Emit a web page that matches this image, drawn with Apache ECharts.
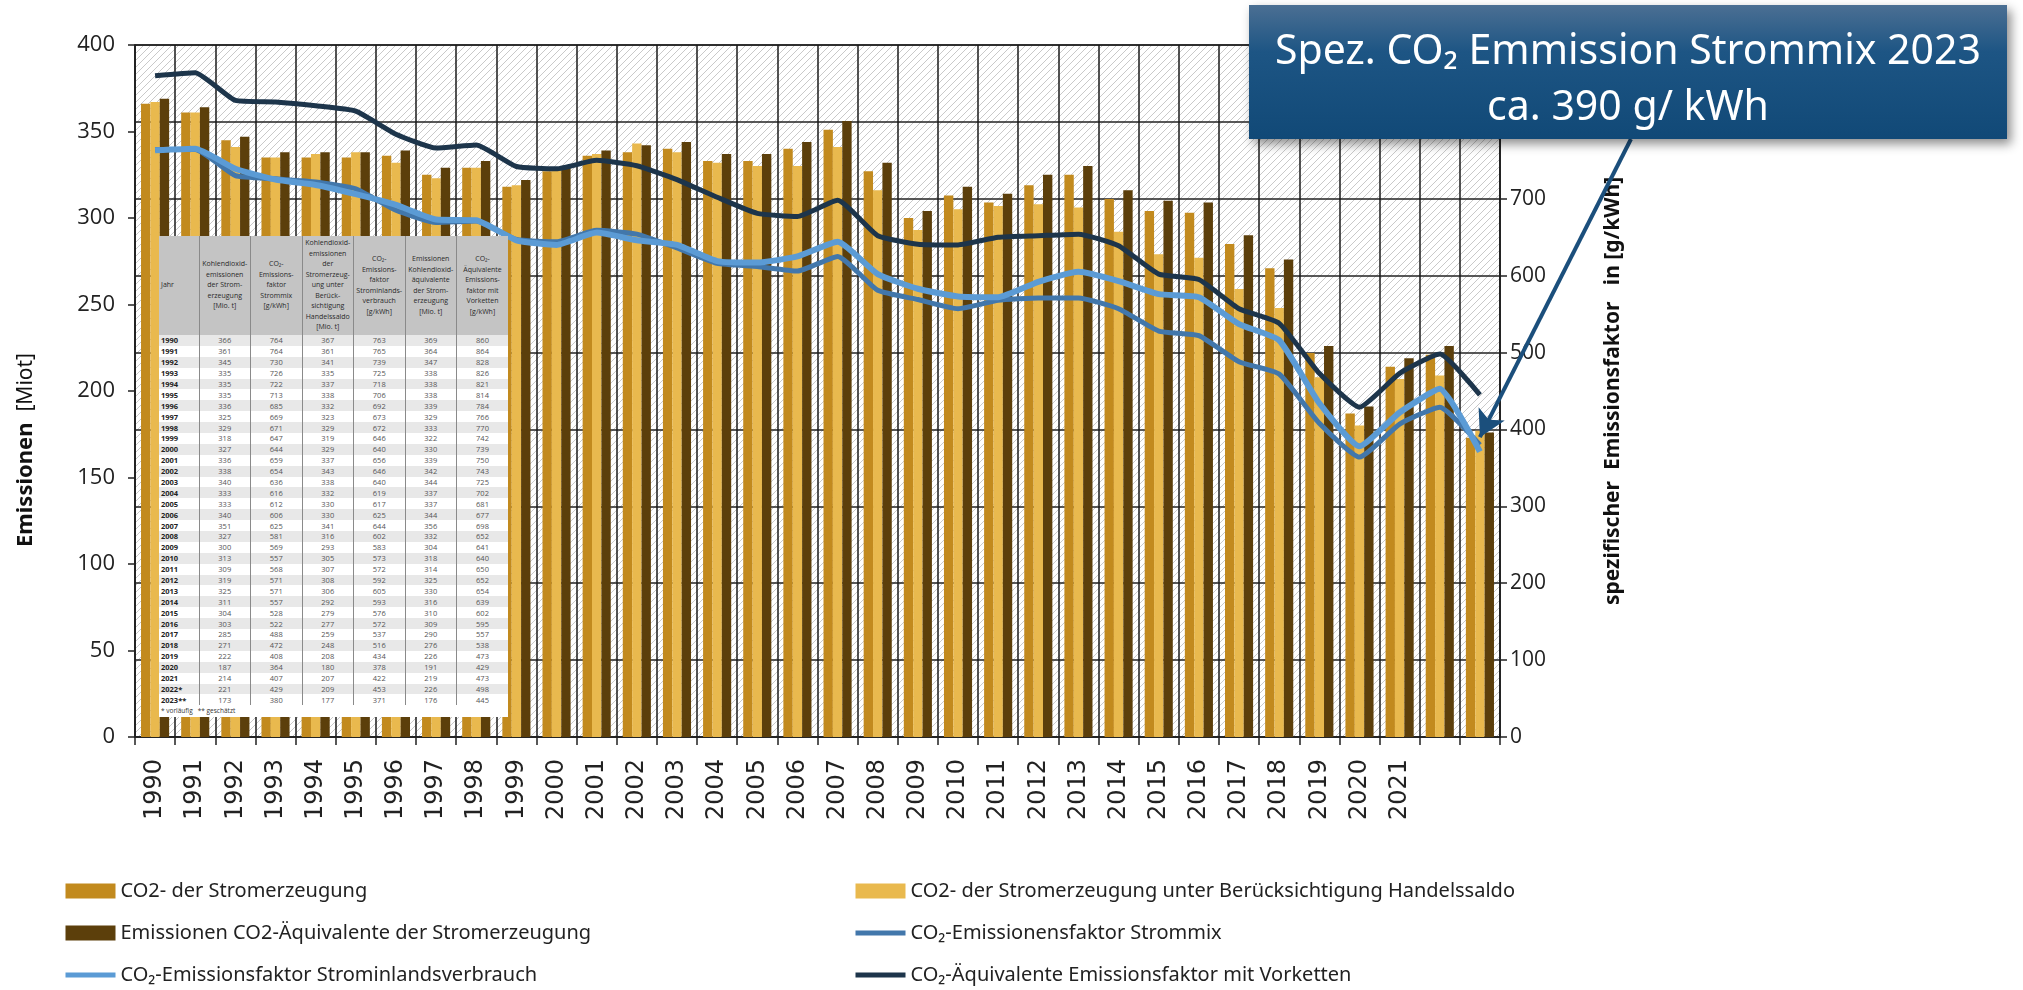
<!DOCTYPE html>
<html>
<head>
<meta charset="utf-8">
<script src="https://cdn.jsdelivr.net/npm/echarts@6/dist/echarts.min.js"></script>
<style>
  html, body { margin: 0; padding: 0; background: #fff; }
  #chart { position: absolute; left: 0; top: 0; width: 2023px; height: 990px; }
  #tbl { position: absolute; left: 159px; top: 236px; width: 349px; background: #fff; z-index: 5;
         font-family: 'Open Sans', 'Noto Sans', sans-serif; }
  #tbl table { border-collapse: collapse; width: 100%; table-layout: fixed; }
  #tbl th { background: #c4c4c4; font-size: 7px; font-weight: normal; color: #2a2a2a; height: 99px;
            line-height: 10.5px; padding: 0 1px; border-left: 1px solid #8a8a8a; text-align: center; }
  #tbl th:first-child { text-align: left; border-left: none; padding-left: 2px; }
  #tbl td { height: 10.9px; padding: 0; font-size: 7.5px; line-height: 10px; color: #555;
            text-align: center; border-left: 1px solid #8a8a8a; }
  #tbl td:first-child { text-align: left; font-weight: bold; color: #222; border-left: none; padding-left: 2px; }
  #tbl tr:nth-child(even) td { background: #e8e8e8; }
  #tbl .foot { font-size: 6.5px; color: #333; padding: 1px 2px 2px; }
</style>
</head>
<body>
<div id="chart"></div>
<div id="tbl"></div>
<script>
// categories
const years = ['1990','1991','1992','1993','1994','1995','1996','1997','1998','1999',
  '2000','2001','2002','2003','2004','2005','2006','2007','2008','2009',
  '2010','2011','2012','2013','2014','2015','2016','2017','2018','2019',
  '2020','2021','2022','2023'];
// x tick labels (the original only labels up to 2021)
const tickLabels = ['1990','1991','1992','1993','1994','1995','1996','1997','1998','1999',
  '2000','2001','2002','2003','2004','2005','2006','2007','2008','2009',
  '2010','2011','2012','2013','2014','2015','2016','2017','2018','2019',
  '2020','2021'];
// year labels of the inset table
const tableYears = ['1990','1991','1992','1993','1994','1995','1996','1997','1998','1999',
  '2000','2001','2002','2003','2004','2005','2006','2007','2008','2009',
  '2010','2011','2012','2013','2014','2015','2016','2017','2018','2019',
  '2020','2021','2022*','2023**'];

// Mio. t
const co2Erzeugung = [366,361,345,335,335,335,336,325,329,318,327,336,338,340,333,333,340,351,327,300,
  313,309,319,325,311,304,303,285,271,222,187,214,221,173];
const co2Handelssaldo = [367,361,341,335,337,338,332,323,329,319,329,337,343,338,332,330,330,341,316,293,
  305,307,308,306,292,279,277,259,248,208,180,207,209,177];
const co2Aequivalente = [369,364,347,338,338,338,339,329,333,322,330,339,342,344,337,337,344,356,332,304,
  318,314,325,330,316,310,309,290,276,226,191,219,226,176];
// g/kWh
const faktorStrommix = [764,764,730,726,722,713,685,669,671,647,644,659,654,636,616,612,606,625,581,569,
  557,568,571,571,557,528,522,488,472,408,364,407,429,380];
const faktorInland = [763,765,739,725,718,706,692,673,672,646,640,656,646,640,619,617,625,644,602,583,
  573,572,592,605,593,576,572,537,516,434,378,422,453,371];
const faktorVorketten = [860,864,828,826,821,814,784,766,770,742,739,750,743,725,702,681,677,698,652,641,
  640,650,652,654,639,602,595,557,538,473,429,473,498,445];

const tableHeads = [
  'Jahr',
  'Kohlendioxid-<br>emissionen<br>der Strom-<br>erzeugung<br>[Mio. t]',
  'CO\u2082-Emissions-<br>faktor<br>Strommix<br>[g/kWh]',
  'Kohlendioxid-<br>emissionen<br>der<br>Stromerzeug-<br>ung unter<br>Berück-<br>sichtigung<br>Handelssaldo<br>[Mio. t]',
  'CO\u2082-Emissions-<br>faktor<br>Strominlands-<br>verbrauch<br>[g/kWh]',
  'Emissionen<br>Kohlendioxid-<br>äquivalente<br>der Strom-<br>erzeugung<br>[Mio. t]',
  'CO\u2082-<br>Äquivalente<br>Emissions-<br>faktor mit<br>Vorketten<br>[g/kWh]'
];

const names = {
  erz: 'CO2- der Stromerzeugung',
  han: 'CO2- der Stromerzeugung unter Berücksichtigung Handelssaldo',
  aeq: 'Emissionen CO2-Äquivalente der Stromerzeugung',
  mix: 'CO\u2082-Emissionensfaktor Strommix',
  inl: 'CO\u2082-Emissionsfaktor Strominlandsverbrauch',
  vor: 'CO\u2082-Äquivalente Emissionsfaktor mit Vorketten'
};

// inset table
(function buildTable() {
  let html = '<table><colgroup><col style="width:40px">';
  for (let i = 0; i < 6; i++) html += '<col>';
  html += '</colgroup><tr>' + tableHeads.map(h => '<th>' + h + '</th>').join('') + '</tr>';
  tableYears.forEach((y, i) => {
    html += '<tr><td>' + y + '</td><td>' + co2Erzeugung[i] + '</td><td>' + faktorStrommix[i] +
      '</td><td>' + co2Handelssaldo[i] + '</td><td>' + faktorInland[i] + '</td><td>' +
      co2Aequivalente[i] + '</td><td>' + faktorVorketten[i] + '</td></tr>';
  });
  html += '</table><div class="foot">* vorläufig &nbsp;&nbsp;** geschätzt</div>';
  document.getElementById('tbl').innerHTML = html;
})();

// hatched plot background
const hatch = document.createElement('canvas');
hatch.width = 7; hatch.height = 7;
const hc = hatch.getContext('2d');
hc.strokeStyle = '#c9c9c9';
hc.lineWidth = 1;
hc.beginPath();
hc.moveTo(0, 7); hc.lineTo(7, 0);
hc.moveTo(-1, 1); hc.lineTo(1, -1);
hc.moveTo(6, 8); hc.lineTo(8, 6);
hc.stroke();

const chart = echarts.init(document.getElementById('chart'));
const legendText = { fontFamily: 'Noto Sans', fontSize: 20, color: '#222' };
const noSymbol = { opacity: 0 };
const thickLine = { width: 5 };

const option = {
  animation: false,
  textStyle: { fontFamily: 'Open Sans' },
  grid: {
    left: 135, right: 523, top: 45, bottom: 253,
    show: true,
    backgroundColor: { image: hatch, repeat: 'repeat' },
    borderColor: '#222', borderWidth: 1.5
  },
  xAxis: {
    type: 'category',
    data: years,
    axisLine: { lineStyle: { color: '#222', width: 1.5 } },
    axisTick: { show: true, length: 8, lineStyle: { color: '#222', width: 1.5 } },
    axisLabel: {
      interval: 0, rotate: 90, margin: 22, fontSize: 24, color: '#222',
      fontFamily: 'DejaVu Sans',
      formatter: (v, i) => tickLabels[i] || ''
    },
    splitLine: { show: true, interval: 0, lineStyle: { color: '#1a1a1a', width: 1.5 } }
  },
  yAxis: [
    {
      type: 'value', position: 'left', min: 0, max: 400, interval: 50,
      axisLine: { show: true, lineStyle: { color: '#222', width: 1.5 } },
      axisTick: { show: true, length: 7, lineStyle: { color: '#222', width: 1.5 } },
      axisLabel: { fontSize: 22, margin: 20, color: '#222' },
      splitLine: { show: false },
      name: '{b|Emissionen}  [Miot]',
      nameLocation: 'middle', nameRotate: 90, nameGap: 98,
      nameTextStyle: {
        fontFamily: 'Noto Sans', fontSize: 21, color: '#111',
        padding: [0, 118, 0, 0],
        rich: { b: { fontFamily: 'Noto Sans', fontSize: 22, fontWeight: 'bold', color: '#111' } }
      }
    },
    {
      type: 'value', position: 'right', min: 0, max: 900, interval: 100,
      axisLine: { show: true, lineStyle: { color: '#222', width: 1.5 } },
      axisTick: { show: true, length: 7, lineStyle: { color: '#222', width: 1.5 } },
      axisLabel: { fontSize: 21, margin: 10, color: '#222' },
      splitLine: { show: true, lineStyle: { color: '#222', width: 1.5 } },
      name: 'spezifischer  Emissionsfaktor   in [g/kWh]',
      nameLocation: 'middle', nameRotate: 90, nameGap: 103,
      nameTextStyle: { fontFamily: 'Noto Sans', fontSize: 21, fontWeight: 'bold', color: '#111' }
    }
  ],
  legend: [
    {
      orient: 'vertical', left: 58, top: 876, itemGap: 22, itemWidth: 50, itemHeight: 15,
      textStyle: legendText,
      data: [{ name: names.erz, icon: 'rect' }, { name: names.aeq, icon: 'rect' },
             { name: names.inl, itemStyle: noSymbol, lineStyle: thickLine }]
    },
    {
      orient: 'vertical', left: 848, top: 876, itemGap: 22, itemWidth: 50, itemHeight: 15,
      textStyle: legendText,
      data: [{ name: names.han, icon: 'rect' },
             { name: names.mix, itemStyle: noSymbol, lineStyle: thickLine },
             { name: names.vor, itemStyle: noSymbol, lineStyle: thickLine }]
    }
  ],
  series: [
    { name: names.erz, type: 'bar', yAxisIndex: 0, data: co2Erzeugung, barGap: '0%', barCategoryGap: '30%',
      itemStyle: { color: '#c28a1e' } },
    { name: names.han, type: 'bar', yAxisIndex: 0, data: co2Handelssaldo,
      itemStyle: { color: '#e9b94e' } },
    { name: names.aeq, type: 'bar', yAxisIndex: 0, data: co2Aequivalente,
      itemStyle: { color: '#5c3f0b' } },
    { name: names.vor, type: 'line', yAxisIndex: 1, data: faktorVorketten, symbol: 'none', smooth: 0.15,
      lineStyle: { color: '#1d354b', width: 5 }, itemStyle: { color: '#1d354b' } },
    { name: names.mix, type: 'line', yAxisIndex: 1, data: faktorStrommix, symbol: 'none', smooth: 0.15,
      lineStyle: { color: '#4277ab', width: 5 }, itemStyle: { color: '#4277ab' },
      markLine: {
        silent: true, symbol: ['none', 'arrow'], symbolSize: [22, 26],
        label: { show: false },
        lineStyle: { color: '#1b4f7c', width: 4, type: 'solid' },
        data: [[{ x: 1631, y: 139 }, { coord: ['2023', 390] }]]
      } },
    { name: names.inl, type: 'line', yAxisIndex: 1, data: faktorInland, symbol: 'none', smooth: 0.15,
      lineStyle: { color: '#5b9bd5', width: 6 }, itemStyle: { color: '#5b9bd5' } }
  ],
  graphic: [
    {
      type: 'group', left: 1249, top: 5, z: 100,
      children: [
        {
          type: 'rect', z: 100, shape: { width: 758, height: 134 },
          style: {
            fill: new echarts.graphic.LinearGradient(0, 0, 0, 1, [
              { offset: 0, color: '#4b6f93' },
              { offset: 0.35, color: '#1d5584' },
              { offset: 1, color: '#114977' }
            ]),
            shadowBlur: 10, shadowOffsetX: 4, shadowOffsetY: 5, shadowColor: 'rgba(0,0,0,0.45)'
          }
        },
        {
          type: 'text', z: 101, x: 379, y: 19,
          style: {
            text: 'Spez. CO\u2082 Emmission Strommix 2023\nca. 390 g/ kWh',
            fill: '#fff', fontFamily: 'Noto Sans', fontSize: 41, lineHeight: 56, align: 'center'
          }
        }
      ]
    }
  ]
};

chart.setOption(option);
</script>
</body>
</html>
